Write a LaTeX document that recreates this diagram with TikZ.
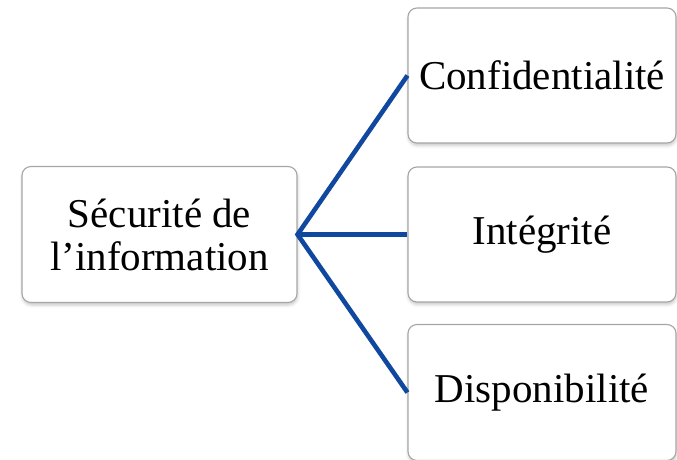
\documentclass[tikz,border=0pt]{standalone}
\usepackage{fontspec}
\setmainfont{Liberation Serif}
\usetikzlibrary{shadows.blur}
\definecolor{linkblue}{RGB}{16,72,160}
\definecolor{boxgray}{RGB}{166,166,166}
\begin{document}
\begin{tikzpicture}[x=1pt,y=-1pt,
  card/.style={draw=boxgray, line width=1.1pt, fill=white, rounded corners=9pt,
    blur shadow={shadow xshift=0.5pt, shadow yshift=-2.5pt, shadow blur radius=3pt, shadow opacity=22},
    font=\fontsize{41}{43}\selectfont, align=center, inner sep=0pt},
  link/.style={draw=linkblue, line width=4.6pt}]
  \useasboundingbox (0,0) rectangle (677,460);
  % root box
  \node[card, minimum width=275pt, minimum height=136pt] (root) at (159.5,234.5)
    {Sécurité de\\l’information};
  % three branches
  \node[card, minimum width=268pt, minimum height=135pt] (conf) at (542,75.5) {Confidentialité};
  \node[card, minimum width=268pt, minimum height=135pt] (integ) at (542,234.5) {Intégrité};
  \node[card, minimum width=268pt, minimum height=136pt] (dispo) at (542,392.5) {Disponibilité};
  % connectors from the root to each branch
  \draw[link, line join=miter] (conf.west) -- (root.east) -- (dispo.west);
  \draw[link] (root.east) -- (integ.west);
\end{tikzpicture}
\end{document}
